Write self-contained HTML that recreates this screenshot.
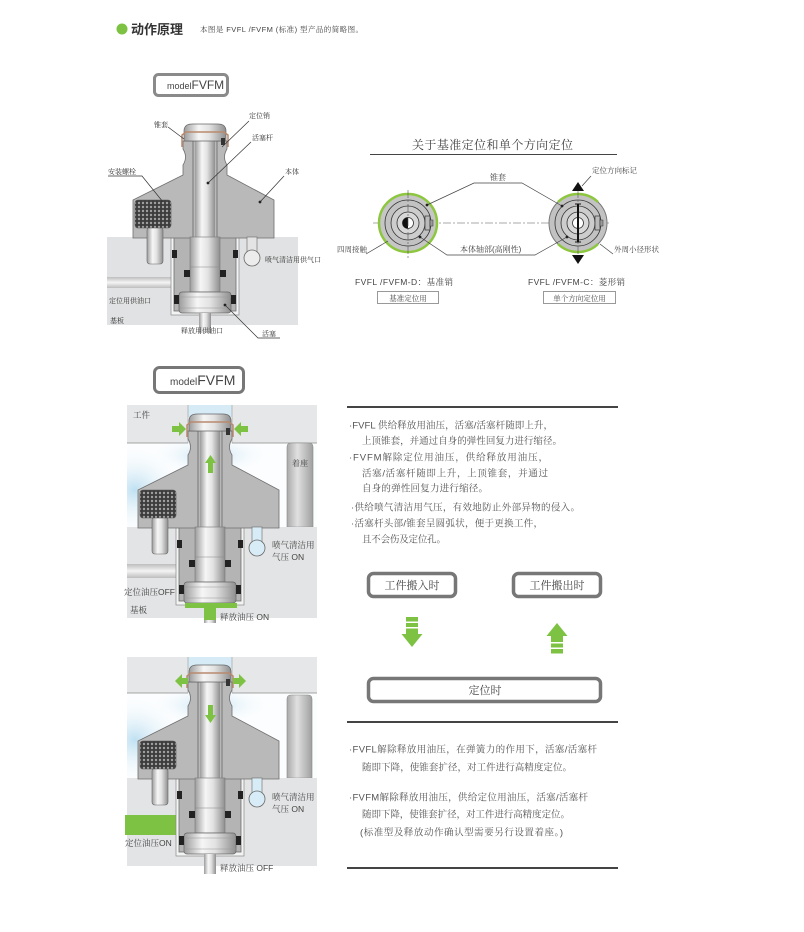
<!DOCTYPE html>
<html><head><meta charset="utf-8">
<style>
html,body{margin:0;padding:0;background:#fff;}
svg{display:block;}
.cn{font-family:"Liberation Sans","Noto Serif CJK SC",serif;}
.sn{font-family:"Liberation Sans","Noto Sans CJK SC",sans-serif;}
</style></head>
<body>
<svg width="804" height="932" viewBox="0 0 804 932" xmlns="http://www.w3.org/2000/svg">
<defs>
  <linearGradient id="rod" x1="0" x2="1" y1="0" y2="0">
    <stop offset="0" stop-color="#9c9c9c"/><stop offset="0.35" stop-color="#f6f6f6"/>
    <stop offset="0.6" stop-color="#e2e2e2"/><stop offset="1" stop-color="#8f8f8f"/>
  </linearGradient>
  <linearGradient id="chan" x1="0" x2="0" y1="0" y2="1">
    <stop offset="0" stop-color="#bdbdbd"/><stop offset="0.5" stop-color="#f4f4f4"/><stop offset="1" stop-color="#bdbdbd"/>
  </linearGradient>
  <linearGradient id="pillar" x1="0" x2="1" y1="0" y2="0">
    <stop offset="0" stop-color="#a9a9a9"/><stop offset="0.4" stop-color="#e0e0e0"/><stop offset="1" stop-color="#a0a0a0"/>
  </linearGradient>
  <radialGradient id="glowL" cx="0.5" cy="0.5" r="0.5">
    <stop offset="0" stop-color="#bfe0f2"/><stop offset="1" stop-color="#ffffff" stop-opacity="0"/>
  </radialGradient>
  <clipPath id="clipM"><rect x="127" y="443" width="190" height="84"/></clipPath>
  <clipPath id="clipB"><rect x="127" y="693" width="190" height="85"/></clipPath>
  <pattern id="knurl" width="4" height="4" patternUnits="userSpaceOnUse">
    <rect width="4" height="4" fill="#3c3c3c"/><circle cx="2" cy="2" r="1.2" fill="#a0a0a0"/>
  </pattern>
  <g id="cyl">
    <rect x="-34" y="0" width="68" height="78" fill="#f2f3f3" stroke="#8a8a8a" stroke-width="0.7"/>
    <rect x="-31" y="0" width="62" height="74" fill="#b4b4b4" stroke="#6f6f6f" stroke-width="0.8"/>
    <path d="M-22,-96 L22,-96 L22,-88 Q17,-80 22,-72 L22,-62 L69,-37 L69,1 L-72,1 L-72,-37 L-22,-62 L-22,-72 Q-17,-80 -22,-88 Z" fill="#b9b9b9" stroke="#6f6f6f" stroke-width="0.8"/>
    <line x1="-12" y1="-96" x2="-12" y2="0" stroke="#666" stroke-width="0.8"/>
    <line x1="12" y1="-96" x2="12" y2="0" stroke="#666" stroke-width="0.8"/>
    <rect x="-10" y="-104" width="20" height="160" fill="url(#rod)"/>
    <rect x="-15" y="0" width="30" height="55" fill="url(#rod)" stroke="#777" stroke-width="0.6"/>
    <line x1="-15" y1="30" x2="15" y2="30" stroke="#888" stroke-width="0.6"/>
    <rect x="-26" y="55" width="52" height="21" rx="3" fill="url(#rod)" stroke="#666" stroke-width="0.7"/>
    <line x1="-26" y1="60" x2="26" y2="60" stroke="#999" stroke-width="0.5"/>
    <line x1="-26" y1="71" x2="26" y2="71" stroke="#999" stroke-width="0.5"/>
    <rect x="-6" y="76" width="12" height="20" fill="url(#rod)"/>
    <rect x="-33" y="13" width="5" height="8" fill="#222"/>
    <rect x="28" y="13" width="5" height="8" fill="#222"/>
    <rect x="-21" y="33" width="6" height="7" fill="#222"/>
    <rect x="15" y="33" width="6" height="7" fill="#222"/>
    <rect x="-31" y="58" width="5" height="9" fill="#222"/>
    <rect x="26" y="58" width="5" height="9" fill="#222"/>
    <path d="M-21,-96 L-21,-106 Q-21,-113 -13,-113 L13,-113 Q21,-113 21,-106 L21,-96 Z" fill="url(#rod)" stroke="#666" stroke-width="0.7"/>
    <path d="M-23,-90 L-23,-102 L-19,-105 L19,-105 L23,-102 L23,-90" fill="none" stroke="#b98a6e" stroke-width="1.5"/>
    <rect x="16" y="-99" width="4" height="7" fill="#333"/>
    <rect x="-58" y="-10" width="16" height="37" rx="3" fill="url(#rod)" stroke="#666" stroke-width="0.6"/>
    <rect x="-70" y="-37" width="36" height="28" rx="3" fill="url(#knurl)" stroke="#555" stroke-width="0.6"/>
  </g>
</defs>

<!-- Header -->
<circle cx="122" cy="29" r="5.5" fill="#7dc242"/>
<text x="131" y="34" class="sn" font-size="13" font-weight="bold" fill="#333">动作原理</text>
<text x="200" y="32" class="cn" font-size="7.5" fill="#444" textLength="163" lengthAdjust="spacing">本图是 FVFL /FVFM (标准) 型产品的简略图。</text>

<!-- model box 1 -->
<rect x="154.5" y="74.5" width="73" height="21" rx="4" fill="#fff" stroke="#8a8a8a" stroke-width="3"/>
<text x="167" y="89" class="sn" fill="#444"><tspan font-size="9">model</tspan><tspan font-size="12">FVFM</tspan></text>

<!-- TOP DIAGRAM -->
<rect x="107" y="237" width="191" height="88" fill="#e1e2e3"/>
<rect x="107" y="277" width="70" height="11" fill="url(#chan)"/>
<use href="#cyl" transform="translate(205,237)"/>
<rect x="247" y="237" width="10" height="15" fill="#e4e4e4" stroke="#666" stroke-width="0.6"/>
<circle cx="252" cy="258" r="8" fill="#ececec" stroke="#666" stroke-width="0.8"/>
<g class="cn" font-size="7" fill="#333">
  <text x="154" y="127">锥套</text>
  <text x="249" y="118">定位销</text>
  <text x="252" y="140">活塞杆</text>
  <text x="108" y="174">安装螺栓</text>
  <text x="285" y="174">本体</text>
  <text x="265" y="262">喷气清洁用供气口</text>
  <text x="109" y="303">定位用供油口</text>
  <text x="110" y="323">基板</text>
  <text x="181" y="333">释放用供油口</text>
  <text x="262" y="336">活塞</text>
</g>
<g stroke="#333" stroke-width="0.7" fill="none">
  <line x1="168" y1="127" x2="184" y2="139"/>
  <line x1="249" y1="121" x2="222" y2="147"/>
  <line x1="251" y1="142" x2="208" y2="183"/>
  <polyline points="108,176 142,176 163,202"/>
  <line x1="284" y1="176" x2="260" y2="202"/>
  <polyline points="280,338 258,338 226,306"/>
</g>
<g fill="#222">
  <circle cx="208" cy="183" r="1.4"/><circle cx="260" cy="202" r="1.4"/><circle cx="225" cy="305" r="1.4"/>
</g>

<!-- TOP RIGHT: circles -->
<text x="412" y="149" class="cn" font-size="12" fill="#444" textLength="161" lengthAdjust="spacing">关于基准定位和单个方向定位</text>
<line x1="370" y1="154.5" x2="617" y2="154.5" stroke="#444" stroke-width="1"/>
<line x1="373" y1="223" x2="610" y2="223" stroke="#555" stroke-width="0.6" stroke-dasharray="8,2,2,2"/>
<!-- left circle -->
<circle cx="408" cy="223" r="29" fill="#c6c6c6" stroke="#8dc63f" stroke-width="2.5"/>
<circle cx="408" cy="223" r="23" fill="#c2c2c2" stroke="#333" stroke-width="0.8"/>
<circle cx="408" cy="223" r="17" fill="#cdcdcd" stroke="#333" stroke-width="0.8"/>
<circle cx="408" cy="223" r="11" fill="#d8d8d8" stroke="#333" stroke-width="0.8"/>
<circle cx="408" cy="223" r="5.5" fill="#fff" stroke="#333" stroke-width="0.8"/>
<path d="M408,223 L402.5,223 A5.5,5.5 0 0 1 408,217.5 Z" fill="#111"/>
<path d="M408,223 L408,228.5 A5.5,5.5 0 0 1 402.5,223 Z" fill="#111"/>
<rect x="425" y="216" width="5" height="14" fill="#bbb" stroke="#333" stroke-width="0.7"/>
<rect x="430" y="220" width="3" height="6" fill="#999" stroke="#333" stroke-width="0.5"/>
<line x1="408" y1="190" x2="408" y2="258" stroke="#555" stroke-width="0.6" stroke-dasharray="8,2,2,2"/>
<!-- right circle -->
<circle cx="578" cy="223" r="29" fill="#c2c2c2" stroke="#777" stroke-width="1"/>
<path d="M558,202 A29,29 0 0 1 598,202" fill="none" stroke="#8dc63f" stroke-width="2.5"/>
<path d="M598,244 A29,29 0 0 1 558,244" fill="none" stroke="#8dc63f" stroke-width="2.5"/>
<circle cx="578" cy="223" r="23" fill="#c2c2c2" stroke="#333" stroke-width="0.8"/>
<circle cx="578" cy="223" r="17" fill="#cdcdcd" stroke="#333" stroke-width="0.8"/>
<circle cx="578" cy="223" r="11" fill="#d8d8d8" stroke="#333" stroke-width="0.8"/>
<circle cx="578" cy="223" r="5.5" fill="#fff" stroke="#333" stroke-width="0.8"/>
<rect x="595" y="216" width="5" height="14" fill="#bbb" stroke="#333" stroke-width="0.7"/>
<rect x="600" y="220" width="3" height="6" fill="#999" stroke="#333" stroke-width="0.5"/>
<line x1="578" y1="190" x2="578" y2="258" stroke="#555" stroke-width="0.6" stroke-dasharray="8,2,2,2"/>
<line x1="578" y1="204" x2="578" y2="242" stroke="#111" stroke-width="2"/>
<line x1="575" y1="204" x2="581" y2="204" stroke="#111" stroke-width="1"/>
<line x1="575" y1="242" x2="581" y2="242" stroke="#111" stroke-width="1"/>
<polygon points="578,182 572,191 584,191" fill="#111"/>
<polygon points="578,264 572,255 584,255" fill="#111"/>
<!-- circle labels -->
<g stroke="#444" stroke-width="0.7" fill="none">
  <polyline points="427,205 474,183 522,183 562,206"/>
  <line x1="366" y1="254" x2="388" y2="241"/>
  <polyline points="420,237 447,255 535,255 567,237"/>
  <line x1="582" y1="186" x2="591" y2="176"/>
  <line x1="600" y1="244" x2="613" y2="254"/>
</g>
<g fill="#222"><circle cx="427" cy="205" r="1.4"/><circle cx="562" cy="206" r="1.4"/><circle cx="420" cy="237" r="1.4"/><circle cx="567" cy="237" r="1.4"/></g>
<g class="cn" font-size="8" fill="#444">
  <text x="490" y="180">锥套</text>
  <text x="337" y="252" font-size="7.5">四周接触</text>
  <text x="460" y="252">本体轴部(高刚性)</text>
  <text x="592" y="173" font-size="7.5">定位方向标记</text>
  <text x="614" y="252" font-size="7.5">外周小径形状</text>
  <text x="355" y="285" font-size="8.5" textLength="98" lengthAdjust="spacing">FVFL /FVFM-D：基准销</text>
  <text x="528" y="285" font-size="8.5" textLength="97" lengthAdjust="spacing">FVFL /FVFM-C：菱形销</text>
</g>
<rect x="377.5" y="291.5" width="61" height="12" fill="#fff" stroke="#999" stroke-width="1"/>
<text x="408" y="301" class="cn" font-size="7.5" fill="#444" text-anchor="middle">基准定位用</text>
<rect x="543.5" y="291.5" width="72" height="12" fill="#fff" stroke="#999" stroke-width="1"/>
<text x="579.5" y="301" class="cn" font-size="7.5" fill="#444" text-anchor="middle">单个方向定位用</text>

<!-- model box 2 -->
<rect x="154.5" y="367.5" width="89" height="25" rx="5" fill="#fff" stroke="#777" stroke-width="3"/>
<text x="170" y="385" class="sn" fill="#444"><tspan font-size="10">model</tspan><tspan font-size="14">FVFM</tspan></text>

<!-- MIDDLE DIAGRAM -->
<rect x="127" y="443" width="190" height="84" fill="#fbfdfe"/>
<g clip-path="url(#clipM)">
  <ellipse cx="135" cy="490" rx="50" ry="45" fill="url(#glowL)"/>
  <ellipse cx="210" cy="455" rx="60" ry="20" fill="url(#glowL)"/>
</g>
<rect x="188" y="405" width="44" height="12" fill="#d6ebf6"/>
<rect x="127" y="405" width="61" height="38" fill="#e6e7e8"/>
<rect x="232" y="405" width="85" height="38" fill="#e6e7e8"/>
<line x1="127" y1="443" x2="188" y2="443" stroke="#888" stroke-width="0.8"/>
<line x1="232" y1="443" x2="317" y2="443" stroke="#888" stroke-width="0.8"/>
<line x1="188" y1="405" x2="188" y2="443" stroke="#999" stroke-width="0.6"/>
<line x1="232" y1="405" x2="232" y2="443" stroke="#999" stroke-width="0.6"/>
<path d="M287,527 L287,447 Q287,443 291,443 L309,443 Q313,443 313,447 L313,527 Z" fill="url(#pillar)" stroke="#888" stroke-width="0.6"/>
<rect x="127" y="527" width="190" height="91" fill="#e3e4e5"/>
<rect x="127" y="564" width="50" height="14" fill="url(#chan)"/>
<use href="#cyl" transform="translate(210,527)"/>
<rect x="252" y="527" width="10" height="15" fill="#d8ecf7" stroke="#666" stroke-width="0.6"/>
<circle cx="257" cy="548" r="8" fill="#d8ecf7" stroke="#666" stroke-width="0.8"/>
<!-- green -->
<g fill="#7dc242">
  <polygon points="172,426 179,426 179,422 186,429 179,436 179,432 172,432"/>
  <polygon points="248,426 241,426 241,422 234,429 241,436 241,432 248,432"/>
  <polygon points="208,473 208,463 205,463 210.5,455 216,463 213,463 213,473"/>
  <rect x="185" y="603" width="52" height="5"/>
  <rect x="204" y="608" width="12" height="12"/>
</g>
<g class="cn" font-size="8.5" fill="#444">
  <text x="133" y="418">工件</text>
  <text x="292" y="466" font-size="8">着座</text>
  <text x="272" y="548">喷气清洁用</text>
  <text x="272" y="560">气压 ON</text>
  <text x="124" y="595">定位油压OFF</text>
  <text x="130" y="613">基板</text>
  <text x="220" y="620">释放油压 ON</text>
</g>

<!-- BOTTOM DIAGRAM -->
<rect x="127" y="693" width="190" height="85" fill="#fbfdfe"/>
<g clip-path="url(#clipB)">
  <ellipse cx="135" cy="740" rx="50" ry="45" fill="url(#glowL)"/>
  <ellipse cx="210" cy="705" rx="60" ry="20" fill="url(#glowL)"/>
</g>
<rect x="188" y="657" width="44" height="12" fill="#d6ebf6"/>
<rect x="127" y="657" width="61" height="36" fill="#e6e7e8"/>
<rect x="232" y="657" width="85" height="36" fill="#e6e7e8"/>
<line x1="127" y1="693" x2="188" y2="693" stroke="#888" stroke-width="0.8"/>
<line x1="232" y1="693" x2="317" y2="693" stroke="#888" stroke-width="0.8"/>
<line x1="188" y1="657" x2="188" y2="693" stroke="#999" stroke-width="0.6"/>
<line x1="232" y1="657" x2="232" y2="693" stroke="#999" stroke-width="0.6"/>
<path d="M287,778 L287,699 Q287,695 291,695 L308,695 Q312,695 312,699 L312,778 Z" fill="url(#pillar)" stroke="#888" stroke-width="0.6"/>
<rect x="127" y="778" width="190" height="88" fill="#e3e4e5"/>
<rect x="125" y="815" width="53" height="20" fill="#7dc242"/>
<use href="#cyl" transform="translate(210,778)"/>
<rect x="252" y="778" width="10" height="15" fill="#d8ecf7" stroke="#666" stroke-width="0.6"/>
<circle cx="257" cy="799" r="8" fill="#d8ecf7" stroke="#666" stroke-width="0.8"/>
<g fill="#7dc242">
  <polygon points="188,678 182,678 182,674 175,681 182,688 182,684 188,684"/>
  <polygon points="233,678 239,678 239,674 246,681 239,688 239,684 233,684"/>
  <polygon points="208,705 208,715 205,715 210.5,723 216,715 213,715 213,705"/>
</g>
<g class="cn" font-size="8.5" fill="#444">
  <text x="272" y="800">喷气清洁用</text>
  <text x="272" y="812">气压 ON</text>
  <text x="125" y="846">定位油压ON</text>
  <text x="220" y="871">释放油压 OFF</text>
</g>

<!-- RIGHT TEXT BLOCK 1 -->
<line x1="347" y1="407" x2="618" y2="407" stroke="#444" stroke-width="2"/>
<g class="cn" font-size="9.5" fill="#555">
  <text x="349" y="428.5" textLength="204" lengthAdjust="spacing">·FVFL 供给释放用油压，活塞/活塞杆随即上升，</text>
  <text x="362" y="444" textLength="200" lengthAdjust="spacing">上顶锥套，并通过自身的弹性回复力进行缩径。</text>
  <text x="349" y="460.5" textLength="199" lengthAdjust="spacing">·FVFM解除定位用油压，供给释放用油压，</text>
  <text x="362" y="476.5" textLength="186" lengthAdjust="spacing">活塞/活塞杆随即上升，上顶锥套，并通过</text>
  <text x="362" y="491.5" textLength="126" lengthAdjust="spacing">自身的弹性回复力进行缩径。</text>
  <text x="351" y="510.5" textLength="229" lengthAdjust="spacing">·供给喷气清洁用气压，有效地防止外部异物的侵入。</text>
  <text x="351" y="526.5" textLength="192" lengthAdjust="spacing">·活塞杆头部/锥套呈圆弧状，便于更换工件，</text>
  <text x="362" y="542.5" textLength="84" lengthAdjust="spacing">且不会伤及定位孔。</text>
</g>

<!-- Buttons -->
<rect x="368.5" y="573.5" width="87" height="23" rx="5" fill="#fff" stroke="#777" stroke-width="3.5"/>
<text x="412" y="589" class="cn" font-size="11" fill="#444" text-anchor="middle">工件搬入时</text>
<rect x="513.5" y="573.5" width="87" height="23" rx="5" fill="#fff" stroke="#777" stroke-width="3.5"/>
<text x="557" y="589" class="cn" font-size="11" fill="#444" text-anchor="middle">工件搬出时</text>
<rect x="368.5" y="678.5" width="232" height="23" rx="5" fill="#fff" stroke="#777" stroke-width="3.5"/>
<text x="485" y="694" class="cn" font-size="11" fill="#444" text-anchor="middle">定位时</text>
<!-- green big arrows -->
<g fill="#7dc242">
  <rect x="406" y="617" width="12" height="4.5"/>
  <rect x="406" y="623" width="12" height="4"/>
  <rect x="406" y="628.5" width="12" height="6"/>
  <polygon points="401.5,634 422.5,634 412,647"/>
  <polygon points="557,623 546.5,636 567.5,636"/>
  <rect x="551" y="636" width="12" height="6"/>
  <rect x="551" y="643.5" width="12" height="4"/>
  <rect x="551" y="649" width="12" height="4.5"/>
</g>

<!-- RIGHT TEXT BLOCK 2 -->
<line x1="347" y1="722" x2="618" y2="722" stroke="#444" stroke-width="2"/>
<g class="cn" font-size="9.5" fill="#555">
  <text x="349" y="752.5" textLength="248" lengthAdjust="spacing">·FVFL解除释放用油压，在弹簧力的作用下，活塞/活塞杆</text>
  <text x="362" y="770.5" textLength="210" lengthAdjust="spacing">随即下降，使锥套扩径，对工件进行高精度定位。</text>
  <text x="349" y="800.5" textLength="239" lengthAdjust="spacing">·FVFM解除释放用油压，供给定位用油压，活塞/活塞杆</text>
  <text x="362" y="817.5" textLength="208" lengthAdjust="spacing">随即下降，使锥套扩径，对工件进行高精度定位。</text>
  <text x="360" y="835.5" textLength="203" lengthAdjust="spacing">(标准型及释放动作确认型需要另行设置着座。)</text>
</g>
<line x1="347" y1="868" x2="618" y2="868" stroke="#444" stroke-width="2"/>
</svg>
</body></html>
